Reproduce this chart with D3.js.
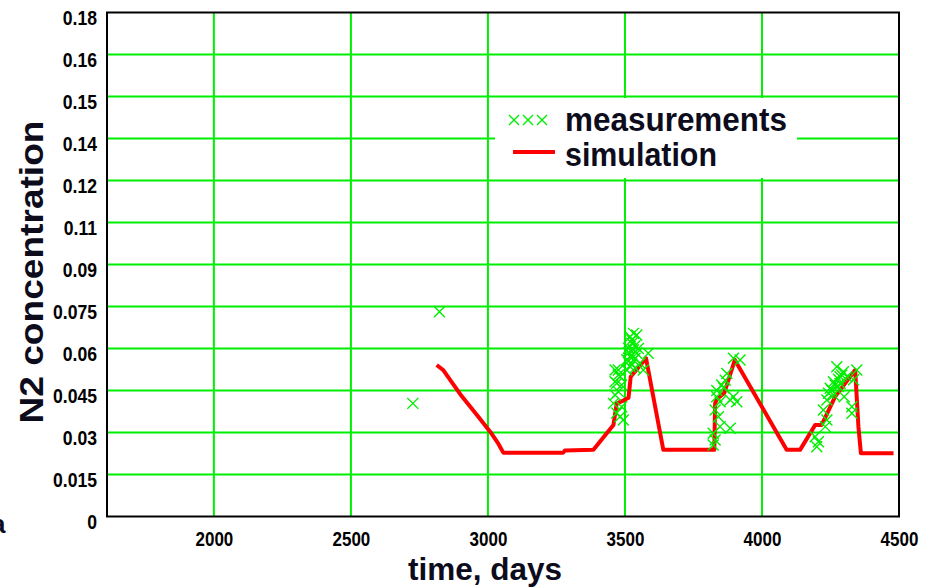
<!DOCTYPE html>
<html>
<head>
<meta charset="utf-8">
<script src="https://cdn.jsdelivr.net/npm/d3@7/dist/d3.min.js"></script>
<style>
  html, body { margin: 0; padding: 0; background: #fff; }
  svg { display: block; }
  .tick-label { font-family: "Liberation Sans", Arial, sans-serif; font-weight: bold; font-size: 20px; fill: #000; }
  .title { font-family: "Liberation Sans", Arial, sans-serif; font-weight: bold; fill: #0c0c1c; }
</style>
</head>
<body>
<div id="chart"></div>
<script>
// Y tick values (multiples of 0.015) and their printed labels
const yTickValues = [0, 0.015, 0.03, 0.045, 0.06, 0.075, 0.09, 0.105, 0.12, 0.135, 0.15, 0.165, 0.18];
const yTickLabels = ["0", "0.015", "0.03", "0.045", "0.06", "0.075", "0.09", "0.11", "0.12", "0.14", "0.15", "0.16", "0.18"];
const xTickValues = [2000, 2500, 3000, 3500, 4000, 4500];
const xTickLabels = ["2000", "2500", "3000", "3500", "4000", "4500"];

// Simulated N2 concentration
const simDays = [2813, 2837, 2904, 2965, 3008, 3038, 3056, 3275, 3281, 3385, 3458, 3470, 3494, 3513, 3521, 3577,
                 3640, 3826, 3829, 3836, 3862, 3901, 4090, 4139, 4194, 4218, 4267, 4340, 4352, 4361, 4480];
const simValues = [0.0541, 0.0523, 0.0430, 0.0356, 0.0303, 0.0260, 0.0228, 0.0228, 0.0236, 0.0238, 0.0327, 0.0404, 0.0414, 0.0424, 0.0499, 0.0565,
                   0.0238, 0.0238, 0.0404, 0.0420, 0.0440, 0.0559, 0.0238, 0.0238, 0.0327, 0.0327, 0.0428, 0.0523, 0.0320, 0.0226, 0.0226];

// Measured N2 concentration
const measDays = [2726, 2823,
  3531, 3543, 3519, 3525, 3513, 3531, 3543, 3519, 3531, 3555, 3519, 3507, 3585, 3567, 3476, 3482, 3470, 3488,
  3476, 3464, 3458, 3488, 3482, 3494, 3464, 3476, 3464, 3470,
  3525, 3537, 3513, 3549, 3525, 3537, 3513, 3525, 3537, 3507,
  3896, 3920, 3872, 3866, 3835, 3847, 3896, 3908, 3884, 3829, 3841, 3847, 3884, 3822, 3829, 3822, 3853,
  3835, 3860,
  4273, 4297, 4346, 4285, 4261, 4249, 4279, 4261, 4237, 4300, 4328, 4328, 4224, 4237, 4231, 4194, 4206,
  4200, 4310, 4334, 4291, 4267, 4279, 4285, 4255, 4243];
const measValues = [0.0404, 0.0731,
  0.0654, 0.0648, 0.0642, 0.0619, 0.0601, 0.0595, 0.0583, 0.0571, 0.0559, 0.0547, 0.0535, 0.0523, 0.0583, 0.0523, 0.0523, 0.0499, 0.0476, 0.0470,
  0.0446, 0.0434, 0.0404, 0.0392, 0.0356, 0.0345, 0.0523, 0.0505, 0.0481, 0.0370,
  0.0630, 0.0610, 0.0585, 0.0600, 0.0575, 0.0565, 0.0555, 0.0545, 0.0530, 0.0560,
  0.0565, 0.0559, 0.0511, 0.0487, 0.0428, 0.0410, 0.0428, 0.0410, 0.0416, 0.0380, 0.0356, 0.0321, 0.0315, 0.0297, 0.0273, 0.0255, 0.0470,
  0.0450, 0.0460,
  0.0535, 0.0517, 0.0523, 0.0499, 0.0481, 0.0458, 0.0464, 0.0434, 0.0416, 0.0428, 0.0392, 0.0369, 0.0380, 0.0345, 0.0321, 0.0285, 0.0267,
  0.0249, 0.0499, 0.0488, 0.0505, 0.0470, 0.0490, 0.0475, 0.0450, 0.0440];

const W = 938, H = 587;
const plot = { left: 107, right: 899, top: 12.5, bottom: 516.5 };

const svg = d3.select("#chart").append("svg").attr("width", W).attr("height", H);

const x = d3.scaleLinear().domain([1610, 4500]).range([plot.left, plot.right]);
const y = d3.scaleLinear().domain([0, 0.18]).range([plot.bottom, plot.top]);

const GREEN = "#00ee00";

// grid
svg.append("g").selectAll("line.h").data(yTickValues.slice(1, -1)).join("line")
  .attr("x1", plot.left).attr("x2", plot.right)
  .attr("y1", d => y(d)).attr("y2", d => y(d))
  .attr("stroke", GREEN).attr("stroke-width", 2);
svg.append("g").selectAll("line.v").data(xTickValues.slice(0, -1)).join("line")
  .attr("y1", plot.top).attr("y2", plot.bottom)
  .attr("x1", d => x(d)).attr("x2", d => x(d))
  .attr("stroke", GREEN).attr("stroke-width", 2);

// narrow the tick labels horizontally
function condense(sel, k) {
  sel.each(function () {
    const len = this.getComputedTextLength();
    d3.select(this).attr("textLength", len * k).attr("lengthAdjust", "spacingAndGlyphs");
  });
}

// axes (labels only)
const yAxis = d3.axisLeft(y).tickValues(yTickValues).tickSize(0).tickPadding(10)
  .tickFormat((d, i) => yTickLabels[i]);
const gy = svg.append("g").attr("transform", `translate(${plot.left},0)`).call(yAxis);
gy.select(".domain").remove();
gy.selectAll("text").attr("class", "tick-label").attr("dy", "0.6em").call(condense, 0.88);

const xAxis = d3.axisBottom(x).tickValues(xTickValues).tickSize(0).tickPadding(15)
  .tickFormat((d, i) => xTickLabels[i]);
const gx = svg.append("g").attr("transform", `translate(0,${plot.bottom})`).call(xAxis);
gx.select(".domain").remove();
gx.selectAll("text").attr("class", "tick-label").call(condense, 0.85);

// legend box (white, covers grid)
const lg = svg.append("g");
lg.append("rect").attr("x", 495).attr("y", 98).attr("width", 302).attr("height", 80).attr("fill", "#fff");

// simulation line
const line = d3.line().x((d, i) => x(simDays[i])).y((d, i) => y(simValues[i]));
svg.append("path").datum(simValues).attr("d", line)
  .attr("fill", "none").attr("stroke", "#ff0000").attr("stroke-width", 4)
  .attr("stroke-linejoin", "round");

// measurement markers
const cross = (g, cx, cy, r) => {
  g.append("path")
    .attr("d", `M${cx - r},${cy - r}L${cx + r},${cy + r}M${cx - r},${cy + r}L${cx + r},${cy - r}`)
    .attr("stroke", GREEN).attr("stroke-width", 1.4).attr("fill", "none");
};
const mg = svg.append("g");
measValues.forEach((v, i) => cross(mg, x(measDays[i]), y(v), 5.5));

// frame
svg.append("rect").attr("x", plot.left).attr("y", plot.top)
  .attr("width", plot.right - plot.left).attr("height", plot.bottom - plot.top)
  .attr("fill", "none").attr("stroke", "#000").attr("stroke-width", 2);

// legend content
[514, 528, 542].forEach(cx => cross(lg, cx, 120, 5));
lg.append("line").attr("x1", 513).attr("x2", 555).attr("y1", 152).attr("y2", 152)
  .attr("stroke", "#ff0000").attr("stroke-width", 4);
lg.append("text").attr("class", "title").attr("x", 565).attr("y", 131)
  .attr("font-size", 34).attr("textLength", 222).attr("lengthAdjust", "spacingAndGlyphs")
  .text("measurements");
lg.append("text").attr("class", "title").attr("x", 565).attr("y", 166)
  .attr("font-size", 34).attr("textLength", 152).attr("lengthAdjust", "spacingAndGlyphs")
  .text("simulation");

// axis titles
svg.append("text").attr("class", "title")
  .attr("transform", "translate(43,272) rotate(-90)")
  .attr("text-anchor", "middle").attr("font-size", 33)
  .attr("textLength", 303).attr("lengthAdjust", "spacingAndGlyphs")
  .text("N2 concentration");
svg.append("text").attr("class", "title")
  .attr("x", 408).attr("y", 580).attr("font-size", 32)
  .attr("textLength", 154).attr("lengthAdjust", "spacingAndGlyphs")
  .text("time, days");

// clipped character at the left edge
svg.append("text").attr("class", "title").attr("x", -9).attr("y", 533)
  .attr("font-size", 26).text("a");
</script>
</body>
</html>
